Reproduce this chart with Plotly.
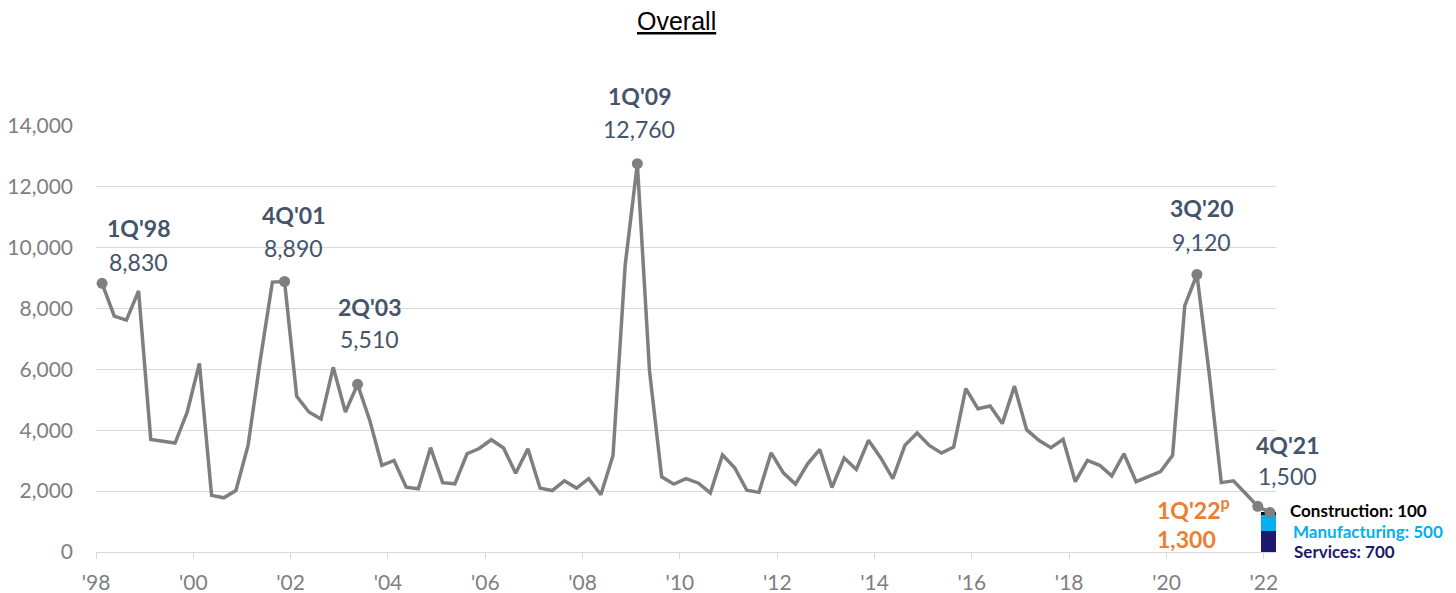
import plotly.graph_objects as go

# Quarterly series, 1Q'98 through 1Q'22 (97 quarters)
start_year = 1998
values = [
    8830, 7750, 7620, 8580,   # 1998
    3700, 3640, 3580, 4600,   # 1999
    6200, 1860, 1780, 2020,   # 2000
    3500, 6300, 8870, 8890,   # 2001
    5120, 4600, 4370, 6070,   # 2002
    4600, 5510, 4330, 2850,   # 2003
    3010, 2130, 2080, 3430,   # 2004
    2280, 2240, 3230, 3400,   # 2005
    3690, 3420, 2590, 3390,   # 2006
    2100, 2020, 2340, 2100,   # 2007
    2410, 1880, 3170, 9430,   # 2008
    12760, 5950, 2470, 2230,  # 2009
    2410, 2270, 1940, 3190,   # 2010
    2770, 2030, 1960, 3260,   # 2011
    2600, 2230, 2900, 3370,   # 2012
    2120, 3090, 2710, 3670,   # 2013
    3100, 2410, 3510, 3910,   # 2014
    3500, 3250, 3450, 5370,   # 2015
    4710, 4800, 4220, 5450,   # 2016
    4020, 3670, 3430, 3700,   # 2017
    2310, 3010, 2850, 2500,   # 2018
    3230, 2310, 2460, 2640,   # 2019
    3180, 8100, 9120, 5900,   # 2020
    2280, 2340, 1920, 1500,   # 2021
    1300,                     # 2022 Q1 (preliminary)
]

# Highlighted quarters: (index, label, label dx, label dy, value dy) in pixels
highlights = [
    (0,  "1Q'98", 36, 55, 21),
    (15, "4Q'01", 9, 66, 33),
    (21, "2Q'03", 12, 77, 45),
    (44, "1Q'09", 2, 68, 35),
    (90, "3Q'20", 5, 66, 32),
    (95, "4Q'21", 30, 61, 30),
]

# Sector breakdown of the latest (preliminary) quarter
sectors = ["Services", "Manufacturing", "Construction"]
sector_values = [700, 500, 100]
sector_colors = ["#1b1a6c", "#00b0f0", "#000000"]

x_ticks = list(range(1998, 2023, 2))
x_tick_text = ["'" + str(y)[2:] for y in x_ticks]
y_ticks = list(range(0, 14001, 2000))

# Quarters plotted at the middle of each quarter
xs = [start_year + i * 0.25 + 0.125 for i in range(len(values))]

LINE_GRAY = "#7f7f7f"
LABEL_NAVY = "#44546a"
ORANGE = "#ed7d31"
FONT = "Lato"

W, H = 1456, 593
L, R, T, B = 96, 180, 126, 41

fig = go.Figure()

# Sector stacked bar at the last quarter
for name, val, col in zip(sectors, sector_values, sector_colors):
    fig.add_trace(go.Bar(
        x=[xs[-1]], y=[val], name=name, marker_color=col,
        marker_line_width=0, width=0.37, showlegend=False, hoverinfo="skip",
    ))

fig.add_trace(go.Scatter(
    x=xs, y=values, mode="lines",
    line=dict(color=LINE_GRAY, width=3.5),
    showlegend=False, hoverinfo="skip", cliponaxis=False,
))

mark_idx = [h[0] for h in highlights] + [len(values) - 1]
fig.add_trace(go.Scatter(
    x=[xs[i] for i in mark_idx], y=[values[i] for i in mark_idx],
    mode="markers", marker=dict(color=LINE_GRAY, size=11),
    showlegend=False, hoverinfo="skip", cliponaxis=False,
))

annotations = []
for idx, lab, dx, dy_lab, dy_val in highlights:
    annotations.append(dict(
        x=xs[idx], y=values[idx], xref="x", yref="y", text="<b>" + lab + "</b>",
        showarrow=False, xshift=dx, yshift=dy_lab, xanchor="center", yanchor="middle",
        font=dict(family=FONT, size=23, color=LABEL_NAVY),
    ))
    annotations.append(dict(
        x=xs[idx], y=values[idx], xref="x", yref="y", text=f"{values[idx]:,}",
        showarrow=False, xshift=dx, yshift=dy_val, xanchor="center", yanchor="middle",
        font=dict(family=FONT, size=23, color=LABEL_NAVY),
    ))

# Preliminary latest quarter, in orange
last = len(values) - 1
annotations.append(dict(
    x=xs[last], y=values[last], xref="x", yref="y",
    text="<b>1Q'22<sup>p</sup></b>", showarrow=False,
    xshift=-115, yshift=4, xanchor="left", yanchor="middle",
    font=dict(family=FONT, size=23, color=ORANGE),
))
annotations.append(dict(
    x=xs[last], y=values[last], xref="x", yref="y",
    text=f"<b>{values[last]:,}</b>", showarrow=False,
    xshift=-115, yshift=-27, xanchor="left", yanchor="middle",
    font=dict(family=FONT, size=23, color=ORANGE),
))

# Sector labels beside the bar
sector_shift = {"Construction": (18, 3), "Manufacturing": (21, -8), "Services": (22, -10)}
cum = 0
for name, val, col in zip(sectors, sector_values, sector_colors):
    mid = cum + val / 2
    cum += val
    dx, dy = sector_shift[name]
    annotations.append(dict(
        x=xs[last], y=mid, xref="x", yref="y",
        text=f"<b>{name}: {val:,}</b>", showarrow=False,
        xshift=dx, yshift=dy, xanchor="left", yanchor="middle",
        font=dict(family=FONT, size=17, color=col),
    ))

# Title, positioned in paper coordinates
annotations.append(dict(
    x=(676 - L) / (W - L - R), y=(H - 21 - B) / (H - T - B),
    xref="paper", yref="paper", text="<u>Overall</u>",
    showarrow=False, xanchor="center", yanchor="middle",
    font=dict(family="Liberation Sans", size=25, color="#000000"),
))

fig.update_layout(
    width=W, height=H, autosize=False,
    margin=dict(l=L, r=R, t=T, b=B, pad=0, autoexpand=False),
    paper_bgcolor="white", plot_bgcolor="white",
    barmode="stack", bargap=0,
    annotations=annotations,
    font=dict(family=FONT),
)

fig.update_xaxes(
    range=[1998, 2022.25], tickvals=x_ticks, ticktext=x_tick_text,
    showgrid=False, zeroline=False, automargin=False,
    showline=True, linecolor="#d9d9d9", linewidth=1,
    ticks="outside", ticklen=6, tickcolor="#d9d9d9", tickwidth=1,
    ticklabelstandoff=6,
    tickfont=dict(family=FONT, size=21, color="#7f7f7f"),
    fixedrange=True,
)
fig.update_yaxes(
    range=[0, 14000], tickvals=y_ticks, tickformat=",",
    showgrid=True, gridcolor="#d9d9d9", gridwidth=1,
    zeroline=False, showline=False, ticks="", automargin=False,
    ticklabelstandoff=22,
    tickfont=dict(family=FONT, size=21, color="#7f7f7f"),
    fixedrange=True,
)

fig.write_html("out.html")
